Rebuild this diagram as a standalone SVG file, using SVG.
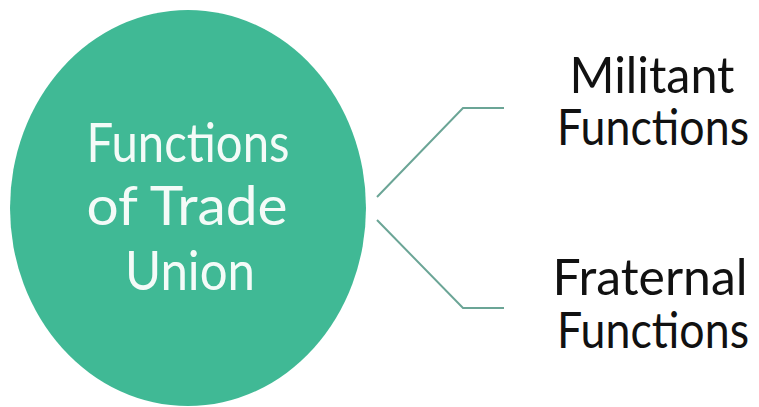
<svg xmlns="http://www.w3.org/2000/svg" width="759" height="407" viewBox="0 0 759 407">
<style>
.main{font-family:"Lato","Liberation Sans",sans-serif;font-size:54px;fill:#f4fbf8;text-anchor:middle}
.lbl{font-family:"Lato","Liberation Sans",sans-serif;font-size:50px;fill:#111;text-anchor:middle}
.conn{fill:none;stroke:#6ba596;stroke-width:2}
</style>
<rect width="759" height="407" fill="#ffffff"/>
<g id="center-node">
<ellipse cx="188" cy="208" rx="178" ry="198" fill="#40b995"/>
<text class="main" x="188" y="162" textLength="203" lengthAdjust="spacingAndGlyphs">Functions</text>
<text class="main" x="187" y="225" textLength="201" lengthAdjust="spacingAndGlyphs">of Trade</text>
<text class="main" x="190" y="290" textLength="130" lengthAdjust="spacingAndGlyphs">Union</text>
</g>
<g id="connectors">
<polyline class="conn" points="377,197 463,108 504,108"/>
<polyline class="conn" points="377,220 463,308 504,308"/>
</g>
<g id="militant">
<text class="lbl" x="652" y="93" textLength="165" lengthAdjust="spacingAndGlyphs">Militant</text>
<text class="lbl" x="653" y="145" textLength="192" lengthAdjust="spacingAndGlyphs">Functions</text>
</g>
<g id="fraternal">
<text class="lbl" x="650" y="295" textLength="195" lengthAdjust="spacingAndGlyphs">Fraternal</text>
<text class="lbl" x="653" y="348" textLength="192" lengthAdjust="spacingAndGlyphs">Functions</text>
</g>
</svg>
